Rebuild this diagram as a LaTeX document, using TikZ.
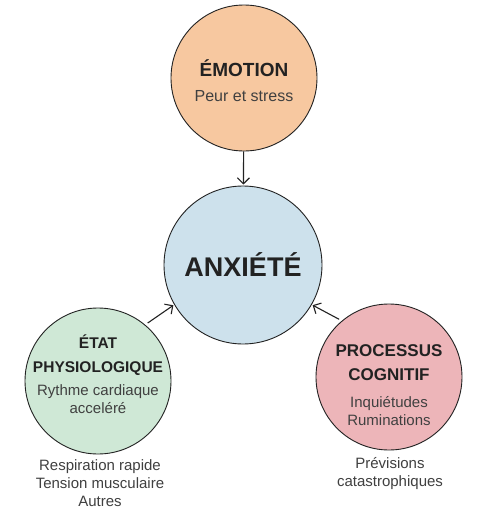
\documentclass[tikz,border=0pt]{standalone}
\usepackage{fontspec}
\setmainfont{Liberation Sans}
\usetikzlibrary{arrows.meta}
\definecolor{emocol}{HTML}{F7C8A0}
\definecolor{anxcol}{HTML}{CDE1EC}
\definecolor{etatcol}{HTML}{CFE8D6}
\definecolor{proccol}{HTML}{EDB5B9}
\definecolor{ink}{HTML}{222222}

\begin{document}
\begin{tikzpicture}
    [   x=1pt,y=-1pt,
        bubble/.style={draw=ink,fill=#1,line width=0.9pt,circle,minimum size=146pt,inner sep=0pt},
        ttl/.style={align=center,text=ink,font=\bfseries\fontsize{17}{24}\selectfont},
        sub/.style={align=center,text=black!75,font=\fontsize{15}{18}\selectfont},
        arr/.style={-{Straight Barb[length=6pt,width=12pt,line width=1.1pt]},draw=ink,line width=1.1pt},
    ]
        \fill[white] (0,0) rectangle (483,517);
        \useasboundingbox (0,0) rectangle (483,517);
        % circles
        \node[bubble=emocol] (emotion) at (244,78) {};
        \node[bubble=anxcol,minimum size=158pt] (anx) at (243,265) {};
        \node[bubble=etatcol] (etat) at (98,381) {};
        \node[bubble=proccol] (proc) at (389,377) {};
        % texts
        \node[ttl,font=\bfseries\fontsize{19}{24}\selectfont] (emotion-t) at (244,68) {ÉMOTION};
        \node[sub,font=\fontsize{16}{18}\selectfont] (emotion-s) at (244,96) {Peur et stress};
        \node[ttl,font=\bfseries\fontsize{27}{30}\selectfont] (anx-t) at (243,265) {ANXIÉTÉ};
        \node[ttl,font=\bfseries\fontsize{15.5}{24}\selectfont] (etat-t) at (98,355) {ÉTAT\\PHYSIOLOGIQUE};
        \node[sub] (etat-s) at (98,399) {Rythme cardiaque\\acceléré};
        \node[ttl] (proc-t) at (389,363) {PROCESSUS\\COGNITIF};
        \node[sub] (proc-s) at (389,411) {Inquiétudes\\Ruminations};
        \node[sub] (etat-n) at (100,483) {Respiration rapide\\Tension musculaire\\Autres};
        \node[sub] (proc-n) at (390,474) {Prévisions\\catastrophiques};
        % links
        \draw[arr,shorten >=1pt] (emotion) -- (anx);
        \draw[arr,shorten <=3pt,shorten >=1pt] (etat.50) -- (anx.210);
        \draw[arr,shorten <=3pt,shorten >=1pt] (proc.130) -- (anx.330);
\end{tikzpicture}
\end{document}
